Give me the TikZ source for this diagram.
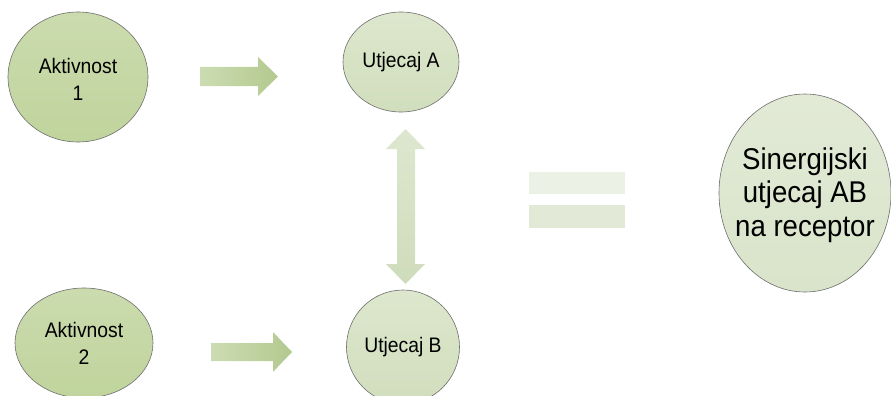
\documentclass[tikz,border=0pt]{standalone}
\usepackage{fontspec}
\setmainfont{Liberation Sans}
\newfontfamily\narrowsans[FakeStretch=0.92]{Liberation Sans}
\usetikzlibrary{shapes.geometric}
\definecolor{edgegray}{HTML}{6E6E6E}
\definecolor{aktTop}{HTML}{CBDBAE}
\definecolor{aktBot}{HTML}{C0D49D}
\definecolor{utjTop}{HTML}{DDE7CD}
\definecolor{utjBot}{HTML}{D1DEBD}
\definecolor{sinTop}{HTML}{E2EAD6}
\definecolor{sinBot}{HTML}{D9E4CA}
\definecolor{arrL}{HTML}{CCDCB2}
\definecolor{arrR}{HTML}{B3C98F}
\definecolor{vTop}{HTML}{DDE7CF}
\definecolor{vBot}{HTML}{CFDCBB}
\definecolor{eqA}{HTML}{ECF1E5}
\definecolor{eqB}{HTML}{E2EAD7}
\tikzset{
  blob/.style={ellipse, draw=edgegray, line width=0.6pt, inner sep=0pt},
  aktblob/.style={blob, top color=aktTop, bottom color=aktBot},
  utjblob/.style={blob, top color=utjTop, bottom color=utjBot},
  sinblob/.style={blob, top color=sinTop, bottom color=sinBot},
  txt/.style={align=center, font=\narrowsans\fontsize{21}{27}\selectfont, inner sep=0pt},
  bigtxt/.style={align=center, font=\narrowsans\fontsize{30}{33.5}\selectfont, inner sep=0pt},
}
\begin{document}
\begin{tikzpicture}[x=1pt,y=-1pt]
\useasboundingbox (0,0) rectangle (891,396);
% ellipses
\node[aktblob, minimum width=140pt, minimum height=130pt] (a1) at (78,77) {};
\node[txt] (a1t) at ([yshift=-2pt]a1.center) {Aktivnost\\1};
\node[aktblob, minimum width=138pt, minimum height=110pt] (a2) at (84,343) {};
\node[txt] (a2t) at (a2.center) {Aktivnost\\2};
\node[utjblob, minimum width=116pt, minimum height=100pt] (ua) at (401,62) {};
\node[txt] (uat) at (ua.center) {Utjecaj A};
\node[utjblob, minimum width=113pt, minimum height=114pt] (ub) at (403,347) {};
\node[txt] (ubt) at (ub.center) {Utjecaj B};
\node[sinblob, minimum width=172pt, minimum height=198pt] (s) at (805,193) {};
\node[bigtxt] (st) at ([yshift=-2pt]s.center) {Sinergijski\\utjecaj AB\\na receptor};
% block arrows
\shade[left color=arrL, right color=arrR]
  (200,67) -- (258,67) -- (258,57) -- (278,76.5) -- (258,96) -- (258,86) -- (200,86) -- cycle;
\shade[left color=arrL, right color=arrR]
  (211,343) -- (273,343) -- (273,332) -- (292,352) -- (273,372) -- (273,361) -- (211,361) -- cycle;
\shade[top color=vTop, bottom color=vBot]
  (405.5,129) -- (425,149) -- (415,149) -- (415,264) -- (425,264) -- (405.5,284)
  -- (386,264) -- (397,264) -- (397,149) -- (386,149) -- cycle;
% equals sign
\node[fill=eqA, minimum width=96pt, minimum height=22pt, inner sep=0pt] (eq1) at (577,183) {};
\node[fill=eqB, minimum width=96pt, minimum height=23pt, inner sep=0pt] (eq2) at (577,216.5) {};
\end{tikzpicture}
\end{document}
